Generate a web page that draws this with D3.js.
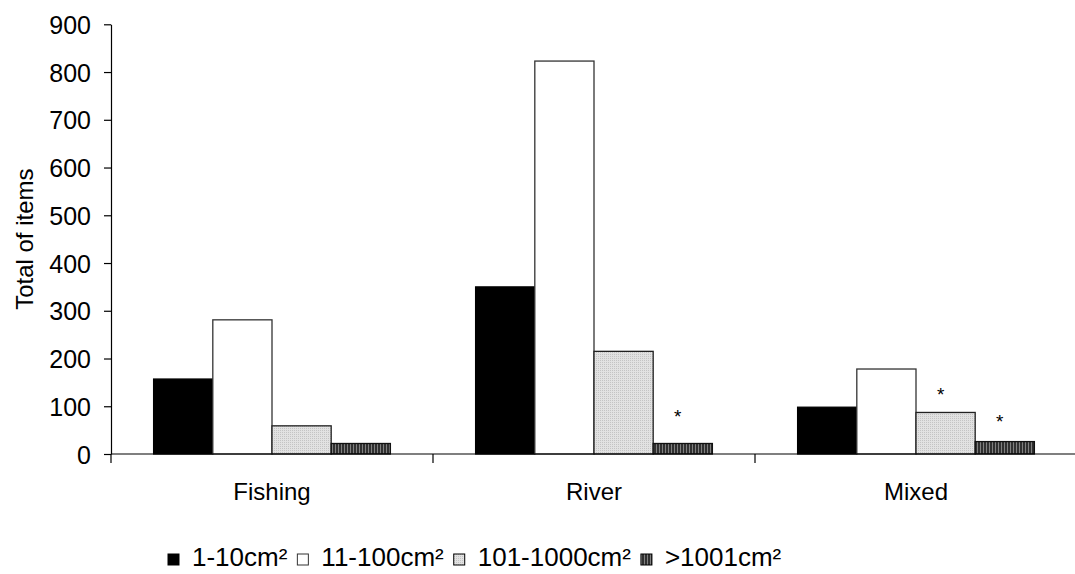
<!DOCTYPE html>
<html><head><meta charset="utf-8">
<script src="https://cdn.jsdelivr.net/npm/d3@7"></script>
<style>
html,body{margin:0;padding:0;background:#fff;}
text{font-family:"Liberation Sans",Arial,sans-serif;fill:#000;}
</style></head>
<body><svg id="c" width="1075" height="574"></svg>
<script>
const categories = ["Fishing", "River", "Mixed"];
const seriesNames = ["1-10cm²", "11-100cm²", "101-1000cm²", ">1001cm²"];
const s1 = [157, 350, 98];
const s2 = [281, 823, 178];
const s3 = [59, 215, 87];
const s4 = [22, 22, 26];
const yTicks = [0, 100, 200, 300, 400, 500, 600, 700, 800, 900];
const asterisks = [
  {cat: "River", series: 3, level: 84},
  {cat: "Mixed", series: 2, level: 130},
  {cat: "Mixed", series: 3, level: 73}
];

const seriesValues = [s1, s2, s3, s4];
const svg = d3.select("#c");
const defs = svg.append("defs");

const pDot = defs.append("pattern").attr("id","pdot").attr("patternUnits","userSpaceOnUse")
  .attr("width",2).attr("height",2);
pDot.append("rect").attr("width",2).attr("height",2).attr("fill","#e2e2e2");
pDot.append("rect").attr("width",1).attr("height",1).attr("fill","#c4c4c4");
const pStr = defs.append("pattern").attr("id","pstr").attr("patternUnits","userSpaceOnUse")
  .attr("width",3).attr("height",3);
pStr.append("rect").attr("width",3).attr("height",3).attr("fill","#808080");
pStr.append("rect").attr("width",2).attr("height",3).attr("fill","#303030");

const fills = ["#000000", "#ffffff", "url(#pdot)", "url(#pstr)"];
const strokes = ["#000", "#333", "#222", "#111"];

const x0 = 111, x1 = 1077, yTop = 24.3, yBot = 454;
const x = d3.scaleBand().domain(categories).range([x0, x1]).padding(0);
const xs = d3.scaleBand().domain(d3.range(4)).range([0, x.bandwidth()]).paddingInner(0).paddingOuter(0.72);
const y = d3.scaleLinear().domain([0, 900]).range([yBot, yTop]);

const g = svg.append("g");
seriesValues.forEach((vals, si) => {
  g.selectAll(null).data(vals.map((v,i)=>({cat:categories[i], v})))
    .enter().append("rect")
    .attr("x", d => x(d.cat) + xs(si))
    .attr("y", d => y(d.v))
    .attr("width", xs.bandwidth())
    .attr("height", d => y(0) - y(d.v))
    .attr("fill", fills[si])
    .attr("stroke", strokes[si])
    .attr("stroke-width", 1.3);
});

const yAxis = d3.axisLeft(y).tickValues(yTicks).tickSize(7).tickPadding(13).tickSizeOuter(0);
const ya = svg.append("g").attr("transform", `translate(${x0},0)`).call(yAxis);
ya.select(".domain").attr("stroke","#000").attr("stroke-width",1.2);
ya.selectAll(".tick line").attr("stroke","#000").attr("stroke-width",1.2);
ya.selectAll(".tick text").style("font-size","25px").style("font-family","Liberation Sans, Arial, sans-serif").attr("fill","#000").attr("dy","0.36em");

svg.append("line").attr("x1", x0).attr("x2", 1075).attr("y1", yBot).attr("y2", yBot)
  .attr("stroke","#000").attr("stroke-width",1.2);
const sepVals = categories.map(c => x(c)).concat([x1]);
svg.selectAll(null).data(sepVals).enter().append("line")
  .attr("x1", d=>d).attr("x2", d=>d).attr("y1", yBot).attr("y2", yBot+9)
  .attr("stroke","#000").attr("stroke-width",1.2);
svg.selectAll(null).data(categories).enter().append("text")
  .attr("x", d => x(d) + x.bandwidth()/2).attr("y", 500)
  .attr("text-anchor","middle").style("font-size","24px").text(d=>d);

svg.append("text").attr("transform", `translate(33,${(yTop+yBot)/2}) rotate(-90)`)
  .attr("text-anchor","middle").style("font-size","24px").text("Total of items");

svg.selectAll(null).data(asterisks).enter().append("text")
  .attr("x", d => x(d.cat) + xs(d.series) + xs.bandwidth()/2 - 5)
  .attr("y", d => y(d.level) + 9)
  .attr("text-anchor","middle").style("font-size","19px").text("*");

const leg = svg.append("g");
let lx = 168;
const ly = 566;
seriesNames.forEach((name, si) => {
  leg.append("rect").attr("x", lx).attr("y", ly-12).attr("width", 11).attr("height", 11)
    .attr("fill", fills[si]).attr("stroke", si===1 ? "#333" : "#000").attr("stroke-width",1);
  const t = leg.append("text").attr("x", lx+24).attr("y", ly).style("font-size","26px").text(name);
  lx += 24 + t.node().getComputedTextLength() + 10;
});
</script>
</body></html>
